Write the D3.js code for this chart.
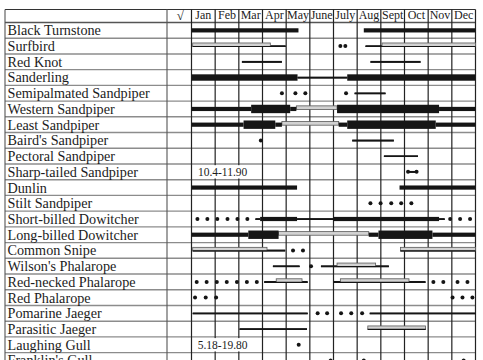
<!DOCTYPE html>
<html>
<head>
<meta charset="utf-8">
<script src="https://cdn.jsdelivr.net/npm/d3@7"></script>
<style>
  body { margin: 0; background: #fff; }
  svg text { font-family: "Liberation Serif", "DejaVu Serif", serif; fill: #1c1c1c; }
</style>
</head>
<body>
<div id="chart"></div>
<script>
// Species rows, top to bottom
const species = [
    "Black Turnstone", "Surfbird", "Red Knot", "Sanderling", "Semipalmated Sandpiper",
    "Western Sandpiper", "Least Sandpiper", "Baird's Sandpiper", "Pectoral Sandpiper",
    "Sharp-tailed Sandpiper", "Dunlin", "Stilt Sandpiper", "Short-billed Dowitcher",
    "Long-billed Dowitcher", "Common Snipe", "Wilson's Phalarope", "Red-necked Phalarope",
    "Red Phalarope", "Pomarine Jaeger", "Parasitic Jaeger", "Laughing Gull", "Franklin's Gull"
];

const months = ["Jan", "Feb", "Mar", "Apr", "May", "June", "July", "Aug", "Sept", "Oct", "Nov", "Dec"];

// Occurrence bars, in months from Jan 1 (0) to Dec 31 (12)
// kind: thin = uncommon, hollow = rare, med / thick / xthick = common to abundant
const bars = [
    ["Black Turnstone", 0, 4.52, "med"], ["Black Turnstone", 7.28, 12, "med"],
    ["Surfbird", 0.05, 3.98, "thin"], ["Surfbird", 0.05, 3.33, "hollow"],
    ["Surfbird", 7.35, 12, "thin"], ["Surfbird", 8.05, 12, "hollow"],
    ["Red Knot", 2.13, 3.82, "thin"], ["Red Knot", 7.56, 9.68, "thin"],
    ["Sanderling", 0, 4.48, "thick"], ["Sanderling", 4.48, 6.58, "thin"], ["Sanderling", 6.58, 12, "thick"],
    ["Semipalmated Sandpiper", 6.89, 8.2, "thin"],
    ["Western Sandpiper", 0, 2.52, "med"], ["Western Sandpiper", 2.52, 4.17, "xthick"],
    ["Western Sandpiper", 4.17, 4.43, "med"], ["Western Sandpiper", 4.43, 6.15, "hollow"],
    ["Western Sandpiper", 6.15, 10.46, "xthick"], ["Western Sandpiper", 10.46, 12, "med"],
    ["Least Sandpiper", 0, 2.2, "med"], ["Least Sandpiper", 2.2, 3.54, "xthick"],
    ["Least Sandpiper", 3.54, 3.82, "med"], ["Least Sandpiper", 3.82, 6.22, "hollow"],
    ["Least Sandpiper", 6.22, 6.58, "med"], ["Least Sandpiper", 6.58, 10.32, "xthick"],
    ["Least Sandpiper", 10.32, 12, "med"],
    ["Baird's Sandpiper", 6.79, 8.55, "thin"],
    ["Pectoral Sandpiper", 8.13, 9.57, "thin"],
    ["Sharp-tailed Sandpiper", 9.15, 9.51, "thin"],
    ["Dunlin", 0, 4.46, "med"], ["Dunlin", 8.79, 12, "med"],
    ["Short-billed Dowitcher", 2.7, 2.9, "thin"], ["Short-billed Dowitcher", 2.9, 4.46, "med"],
    ["Short-billed Dowitcher", 4.46, 6.0, "thin"], ["Short-billed Dowitcher", 6.0, 10.46, "med"],
    ["Short-billed Dowitcher", 10.46, 10.7, "thin"],
    ["Long-billed Dowitcher", 0, 2.4, "med"], ["Long-billed Dowitcher", 2.4, 3.68, "xthick"],
    ["Long-billed Dowitcher", 3.68, 7.49, "hollow"], ["Long-billed Dowitcher", 7.49, 7.9, "med"],
    ["Long-billed Dowitcher", 7.9, 10.18, "xthick"], ["Long-billed Dowitcher", 10.18, 12, "med"],
    ["Common Snipe", 0.05, 3.96, "thin"], ["Common Snipe", 0.05, 3.19, "hollow"],
    ["Common Snipe", 8.83, 12, "thin"], ["Common Snipe", 8.83, 12, "hollow"],
    ["Wilson's Phalarope", 3.44, 4.57, "thin"], ["Wilson's Phalarope", 5.47, 8.34, "thin"],
    ["Wilson's Phalarope", 6.15, 7.78, "hollow"],
    ["Red-necked Phalarope", 3.07, 4.91, "thin"], ["Red-necked Phalarope", 3.58, 4.67, "hollow"],
    ["Red-necked Phalarope", 6.0, 9.89, "thin"], ["Red-necked Phalarope", 6.29, 9.19, "hollow"],
    ["Pomarine Jaeger", 0.05, 4.91, "thin"], ["Pomarine Jaeger", 7.53, 12, "thin"],
    ["Parasitic Jaeger", 2.03, 4.88, "thin"], ["Parasitic Jaeger", 7.45, 9.89, "thin"],
    ["Parasitic Jaeger", 7.45, 9.89, "hollow"]
];

// Single records / irregular sightings
const dots = [
    ["Surfbird", 6.29], ["Surfbird", 6.5],
    ["Semipalmated Sandpiper", 3.82], ["Semipalmated Sandpiper", 4.39],
    ["Semipalmated Sandpiper", 4.81], ["Semipalmated Sandpiper", 6.53],
    ["Baird's Sandpiper", 2.93],
    ["Sharp-tailed Sandpiper", 9.15], ["Sharp-tailed Sandpiper", 9.51],
    ["Stilt Sandpiper", 7.56], ["Stilt Sandpiper", 7.99], ["Stilt Sandpiper", 8.44],
    ["Stilt Sandpiper", 8.86], ["Stilt Sandpiper", 9.29],
    ["Short-billed Dowitcher", 0.25], ["Short-billed Dowitcher", 0.67], ["Short-billed Dowitcher", 1.09],
    ["Short-billed Dowitcher", 1.52], ["Short-billed Dowitcher", 1.94], ["Short-billed Dowitcher", 2.36],
    ["Short-billed Dowitcher", 10.93], ["Short-billed Dowitcher", 11.35], ["Short-billed Dowitcher", 11.77],
    ["Common Snipe", 4.29], ["Common Snipe", 4.71],
    ["Wilson's Phalarope", 5.05],
    ["Red-necked Phalarope", 0.22], ["Red-necked Phalarope", 0.64], ["Red-necked Phalarope", 1.07],
    ["Red-necked Phalarope", 1.49], ["Red-necked Phalarope", 1.92], ["Red-necked Phalarope", 2.34],
    ["Red-necked Phalarope", 2.76],
    ["Red-necked Phalarope", 10.22], ["Red-necked Phalarope", 10.64],
    ["Red-necked Phalarope", 11.24], ["Red-necked Phalarope", 11.66],
    ["Red Phalarope", 0.15], ["Red Phalarope", 0.6], ["Red Phalarope", 1.04],
    ["Red Phalarope", 11.03], ["Red Phalarope", 11.45], ["Red Phalarope", 11.87],
    ["Pomarine Jaeger", 5.33], ["Pomarine Jaeger", 5.73], ["Pomarine Jaeger", 6.32],
    ["Pomarine Jaeger", 6.75], ["Pomarine Jaeger", 7.21],
    ["Laughing Gull", 4.53],
    ["Franklin's Gull", 5.88], ["Franklin's Gull", 7.28], ["Franklin's Gull", 11.5]
];

// Dated single records written into the row
const notes = [
    ["Sharp-tailed Sandpiper", "10.4-11.90"],
    ["Laughing Gull", "5.18-19.80"]
];

const W = 483, H = 360;
const tableLeft = 5, nameEnd = 167, checkEnd = 191.5, tableRight = 475.5;
const tableTop = 9.5, headBottom = 22.5, rowH = 15.72;

const svg = d3.select("#chart").append("svg")
    .attr("width", W)
    .attr("height", H);

const x = d3.scaleLinear().domain([0, 12]).range([checkEnd, tableRight]);
const y = d3.scaleBand()
    .domain(species)
    .range([headBottom, headBottom + rowH * species.length]);

const thickness = { thin: 1.8, hollow: 3.6, med: 4.2, thick: 6.4, xthick: 8.4 };
const order = { thin: 0, hollow: 1, med: 2, thick: 3, xthick: 4 };

// grid: row lines
const grid = svg.append("g");
grid.selectAll("line.row")
    .data(species)
    .join("line")
    .attr("x1", tableLeft).attr("x2", tableRight)
    .attr("y1", d => y(d) + rowH).attr("y2", d => y(d) + rowH)
    .attr("stroke", "#8c8c8c")
    .attr("stroke-width", 1.4);

grid.append("line")
    .attr("x1", tableLeft).attr("x2", tableRight)
    .attr("y1", headBottom).attr("y2", headBottom)
    .attr("stroke", "#555").attr("stroke-width", 1.3);

grid.append("line")
    .attr("x1", tableLeft).attr("x2", tableRight)
    .attr("y1", tableTop).attr("y2", tableTop)
    .attr("stroke", "#333").attr("stroke-width", 1.2);

// grid: column lines
const colX = [tableLeft, nameEnd].concat(d3.range(13).map(m => x(m)));
grid.selectAll("line.col")
    .data(colX)
    .join("line")
    .attr("x1", d => d).attr("x2", d => d)
    .attr("y1", tableTop).attr("y2", H)
    .attr("stroke", (d, i) => i < 2 ? "#555" : "#222")
    .attr("stroke-width", (d, i) => i < 2 ? 1.1 : 1.2);

// header
svg.append("text")
    .attr("x", (nameEnd + checkEnd) / 2 + 1)
    .attr("y", 19.5)
    .attr("text-anchor", "middle")
    .attr("font-size", 13)
    .text("√");

svg.selectAll("text.month")
    .data(months)
    .join("text")
    .attr("x", (d, i) => (x(i) + x(i + 1)) / 2)
    .attr("y", 19.3)
    .attr("text-anchor", "middle")
    .attr("font-size", 12)
    .text(d => d);

// species names
svg.selectAll("text.name")
    .data(species)
    .join("text")
    .attr("x", 7.5)
    .attr("y", d => y(d) + 12.8)
    .attr("font-size", 14.2)
    .text(d => d);

// notes with white box
const noteG = svg.selectAll("g.note")
    .data(notes)
    .join("g");
noteG.append("rect")
    .attr("x", x(0.08))
    .attr("y", d => y(d[0]) + 1.2)
    .attr("width", x(2.55) - x(0.08))
    .attr("height", rowH - 2.4)
    .attr("fill", "#fff");
noteG.append("text")
    .attr("x", (x(0.08) + x(2.55)) / 2)
    .attr("y", d => y(d[0]) + 12.4)
    .attr("text-anchor", "middle")
    .attr("font-size", 11.5)
    .attr("fill", "#333")
    .text(d => d[1]);

// bars
const sorted = bars.slice().sort((a, b) => order[a[3]] - order[b[3]]);
svg.selectAll("rect.bar")
    .data(sorted)
    .join("rect")
    .attr("x", d => x(d[1]))
    .attr("width", d => x(d[2]) - x(d[1]))
    .attr("y", d => {
        const cy = y(d[0]) + rowH / 2;
        return d[3] === "hollow" ? cy - 3.1 : cy - thickness[d[3]] / 2;
    })
    .attr("height", d => thickness[d[3]])
    .attr("fill", d => d[3] === "hollow" ? "#d2d2d2" : "#151515")
    .attr("stroke", d => d[3] === "hollow" ? "#5a5a5a" : "none")
    .attr("stroke-width", 0.8);

// dark line under rare bands where the species also is uncommon
svg.selectAll("line.under")
    .data(bars.filter(d => d[3] === "thin"))
    .join("line")
    .attr("x1", d => x(d[1])).attr("x2", d => x(d[2]))
    .attr("y1", d => y(d[0]) + rowH / 2 + 0.4)
    .attr("y2", d => y(d[0]) + rowH / 2 + 0.4)
    .attr("stroke", "#151515")
    .attr("stroke-width", 1.2);

// dots
svg.selectAll("circle.dot")
    .data(dots)
    .join("circle")
    .attr("cx", d => x(d[1]))
    .attr("cy", d => y(d[0]) + rowH / 2)
    .attr("r", 2)
    .attr("fill", "#151515");
</script>
</body>
</html>
